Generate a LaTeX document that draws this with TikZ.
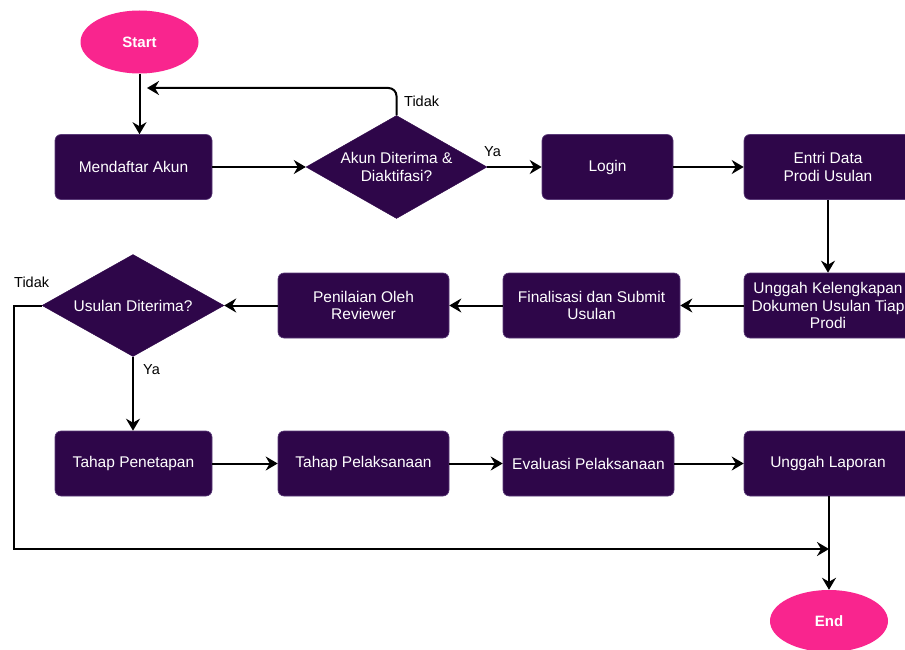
\documentclass[tikz,border=0pt]{standalone}
\usepackage{fontspec}
\setmainfont{Liberation Sans}
\usetikzlibrary{shapes.geometric,arrows.meta,calc}
\definecolor{deep}{HTML}{2E0649}
\definecolor{rim}{HTML}{5A3A78}
\definecolor{pinky}{HTML}{F9258E}
\tikzset{
  box/.style={draw=rim, line width=0.6pt, fill=deep, rounded corners=6pt, text=white, align=center, font=\fontsize{15.5}{17.5}\selectfont, inner sep=0pt},
  dec/.style={draw=deep, fill=deep, diamond, shape aspect=1.75, inner sep=0pt, text=white, align=center, font=\fontsize{15.5}{17.5}\selectfont},
  term/.style={ellipse, fill=pinky, text=white, font=\fontsize{15}{17}\selectfont\bfseries, minimum width=118pt, minimum height=63pt, inner sep=0pt},
  conn/.style={line width=2pt, -{Stealth[length=12pt,width=14pt,inset=4pt]}},
  lbl/.style={font=\fontsize{14.5}{16}\selectfont, text=black, inner sep=0pt}
}
\begin{document}
\begin{tikzpicture}[x=1pt,y=-1pt]
\useasboundingbox (0,0) rectangle (905,650);
\clip (0,0) rectangle (905,650);
% nodes
\node[term] (start) at (139.5,42) {Start};
\node[box, minimum width=157pt, minimum height=65pt] (mend) at (133.5,167) {Mendaftar Akun};
\node[dec, minimum width=181pt, minimum height=103pt] (d1) at (396.5,167) {Akun Diterima \&\\Diaktifasi?};
\node[box, minimum width=131pt, minimum height=65pt] (login) at (607.5,167) {Login};
\node[box, minimum width=168pt, minimum height=65pt] (entri) at (828,167) {Entri Data\\Prodi Usulan};
\node[box, minimum width=168pt, minimum height=65pt] (ungg) at (828,305.5) {Unggah Kelengkapan\\Dokumen Usulan Tiap\\Prodi};
\node[box, minimum width=177pt, minimum height=65pt] (fin) at (591.5,305.5) {Finalisasi dan Submit\\Usulan};
\node[box, minimum width=171pt, minimum height=65pt] (pen) at (363.5,305.5) {Penilaian Oleh\\Reviewer};
\node[dec, minimum width=182pt, minimum height=102pt] (d2) at (133,305.5) {Usulan Diterima?};
\node[box, minimum width=157pt, minimum height=65pt] (tpen) at (133.5,463.5) {Tahap Penetapan};
\node[box, minimum width=171pt, minimum height=65pt] (tpel) at (363.5,463.5) {Tahap Pelaksanaan};
\node[box, minimum width=171pt, minimum height=65pt] (eval) at (588.5,463.5) {Evaluasi Pelaksanaan};
\node[box, minimum width=168pt, minimum height=65pt] (lap) at (828,463.5) {Unggah Laporan};
\node[term, minimum height=62pt] (end) at (829,621) {End};
% helper coordinates
\coordinate (loopTop) at (396.5,88);
\coordinate (loopEnd) at (147,88);
\coordinate (leftTop) at (14,305.5);
\coordinate (leftBot) at (14,549);
\coordinate (joinEnd) at (829,549);
% connectors
\draw[conn] (start.south) -- (start.south |- mend.north);
\draw[conn, rounded corners=8pt] (d1.north) -- (loopTop) -- (loopEnd);
\draw[conn] (mend.east) -- (d1.west);
\draw[conn] (d1.east) -- (login.west);
\draw[conn] (login.east) -- (entri.west);
\draw[conn] (entri.south) -- (ungg.north);
\draw[conn] (ungg.west) -- (fin.east);
\draw[conn] (fin.west) -- (pen.east);
\draw[conn] (pen.west) -- (d2.east);
\draw[conn] (d2.south) -- (d2.south |- tpen.north);
\draw[conn] (tpen.east) -- (tpel.west);
\draw[conn] (tpel.east) -- (eval.west);
\draw[conn] (eval.east) -- (lap.west);
\draw[conn] (lap.south -| end.north) -- (end.north);
\draw[conn] (d2.west) -- (leftTop) -- (leftBot) -- (joinEnd);
% labels
\node[lbl, anchor=west] (t1) at (404,101) {Tidak};
\node[lbl, anchor=west] (y1) at (484,152) {Ya};
\node[lbl, anchor=west] (t2) at (14,282) {Tidak};
\node[lbl, anchor=west] (y2) at (143,370) {Ya};
\end{tikzpicture}
\end{document}
